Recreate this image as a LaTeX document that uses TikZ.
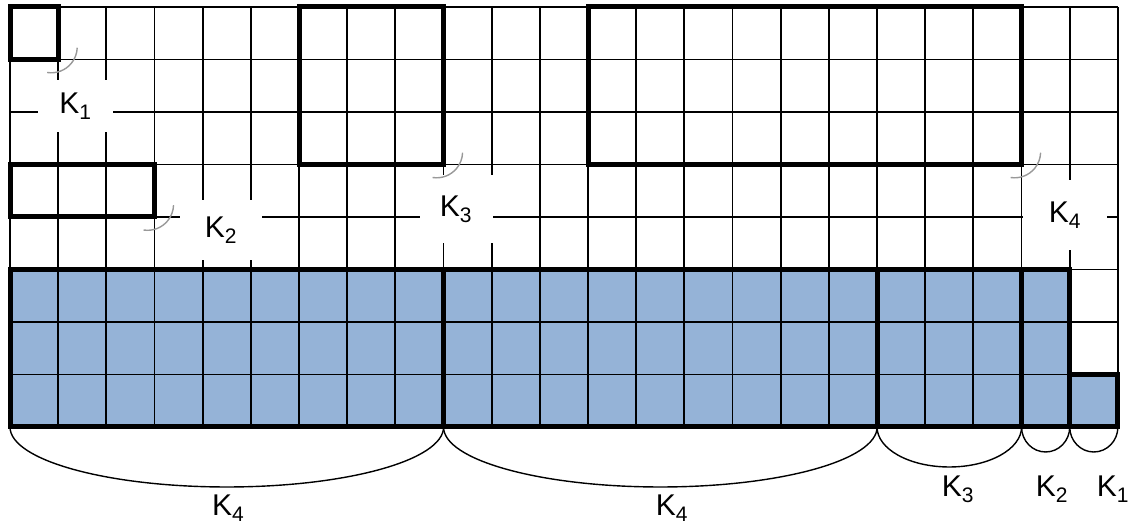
\documentclass[tikz,border=0pt]{standalone}
\usepackage{fontspec}
\setmainfont{Liberation Sans}
\definecolor{cellblue}{RGB}{149,179,215}
\begin{document}
\begin{tikzpicture}[
    x=48.17pt, y=52.5pt,
    font=\fontsize{30}{36}\selectfont,
    gridline/.style={line width=1.8pt, draw=black},
    block/.style={line width=5pt, draw=black, line join=miter},
    labelbox/.style={fill=white, inner sep=0pt, align=center},
    cornerarc/.style={line width=1.4pt, draw=black!40},
    brace/.style={line width=1.4pt, draw=black}
]
\useasboundingbox (-0.2076,-1.8857) rectangle (23.376,8.1333);

% filled cells
\fill[cellblue] (0,0) rectangle (22,3);
\fill[cellblue] (22,0) rectangle (23,1);

% grid
\foreach \i in {0,...,23}
  \draw[gridline] (\i,0) -- (\i,8);
\foreach \j in {0,...,8}
  \draw[gridline] (0,\j) -- (23,\j);

% labels in the upper part
\node[labelbox, minimum width=75pt, minimum height=52pt] (lk1) at (1.36,6.11) {K\textsubscript{1}};
\node[labelbox, minimum width=82pt, minimum height=60pt] (lk2) at (4.38,3.75) {K\textsubscript{2}};
\node[labelbox, minimum width=73pt, minimum height=68pt] (lk3) at (9.26,4.15) {K\textsubscript{3}};
\node[labelbox, minimum width=84pt, minimum height=70pt] (lk4) at (21.90,4.04) {K\textsubscript{4}};

% upper blocks
\draw[block] (0,7) rectangle (1,8);
\draw[block] (0,4) rectangle (3,5);
\draw[block] (6,5) rectangle (9,8);
\draw[block] (12,5) rectangle (21,8);

% corner marks
\coordinate (c1) at (1,7);
\coordinate (c2) at (3,4);
\coordinate (c3) at (9,5);
\coordinate (c4) at (21,5);
\foreach \c in {c1,c2,c3,c4}
  \draw[cornerarc] ([shift={(-11pt,-13pt)}]\c) arc[start angle=-99, end angle=-2, radius=26pt];

% lower blocks
\draw[block] (0,0) rectangle (9,3);
\draw[block] (9,0) rectangle (18,3);
\draw[block] (18,0) rectangle (21,3);
\draw[block] (21,0) rectangle (22,3);
\draw[block] (22,0) rectangle (23,1);

% braces below
\coordinate (b0) at (0,0);
\coordinate (b1) at (9,0);
\coordinate (b2) at (18,0);
\coordinate (b3) at (21,0);
\coordinate (b4) at (22,0);
\draw[brace] (b0) arc[start angle=180, end angle=360, x radius=216.8pt, y radius=60pt];
\draw[brace] (b1) arc[start angle=180, end angle=360, x radius=216.8pt, y radius=60pt];
\draw[brace] (b2) arc[start angle=180, end angle=360, x radius=72.25pt, y radius=40pt];
\draw[brace] (b3) arc[start angle=180, end angle=360, x radius=24.08pt, y radius=25pt];
\draw[brace] (b4) arc[start angle=180, end angle=360, x radius=24.08pt, y radius=25pt];

\node (bk4a) at (4.53,-1.54) {K\textsubscript{4}};
\node (bk4b) at (13.74,-1.54) {K\textsubscript{4}};
\node (bk3) at (19.68,-1.18) {K\textsubscript{3}};
\node (bk2) at (21.63,-1.18) {K\textsubscript{2}};
\node (bk1) at (22.90,-1.18) {K\textsubscript{1}};
\end{tikzpicture}
\end{document}
